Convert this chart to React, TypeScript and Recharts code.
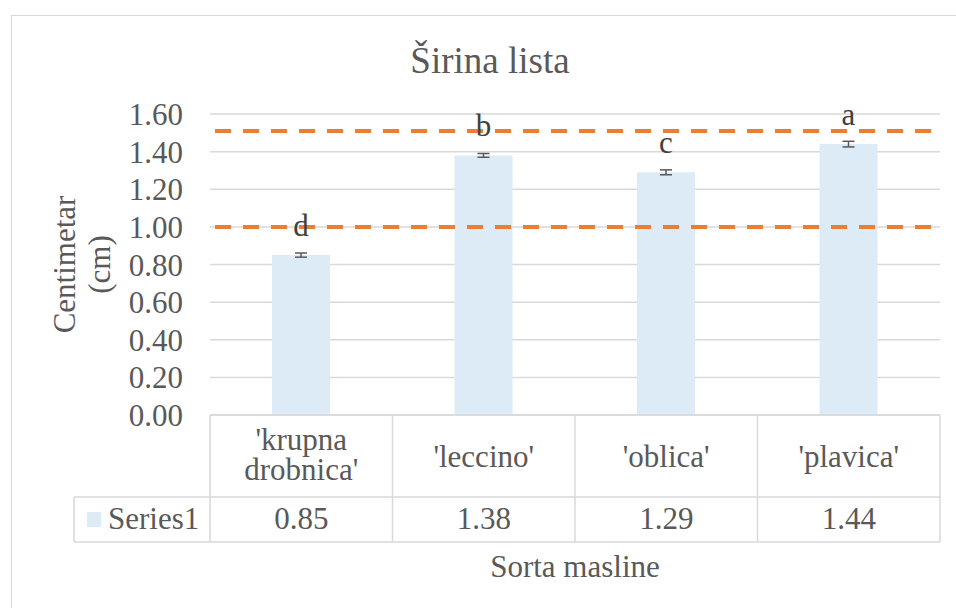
import { BarChart, Bar, XAxis, YAxis, CartesianGrid, ReferenceLine, ErrorBar, LabelList, Label } from 'recharts';

const categories = ["'krupna drobnica'", "'leccino'", "'oblica'", "'plavica'"];
const leafWidth = [0.85, 1.38, 1.29, 1.44];
const leafError = [0.011, 0.01, 0.013, 0.015];
const groupLetters = ['d', 'b', 'c', 'a'];
const yTicks = [0, 0.2, 0.4, 0.6, 0.8, 1.0, 1.2, 1.4, 1.6];
const refLines = [1.0, 1.51];
const seriesName = 'Series1';

const chartData = categories.map((name, i) => ({
  name,
  value: leafWidth[i],
  err: leafError[i],
  letter: groupLetters[i],
}));

const FONT = 'Liberation Serif';
const TEXT = '#595959';
const LINE = '#D9D9D9';
const BAR = '#DDEBF7';
const BAND = 182.5;

// x axis ticks draw the data table under the plot
const TableTick = (props: any) => {
  const { x, y, payload } = props;
  const i = payload.index;
  const left = x - BAND / 2;
  const right = x + BAND / 2;
  const lines = String(payload.value).split(' ');
  const rowSplit = y + 82;
  const bottom = y + 127;
  const startX = i === 0 ? left - 136 : left;
  const firstBaseline = lines.length === 1 ? y + 52 : y + 35;
  return (
    <g>
      <line x1={left} y1={y} x2={right} y2={y} stroke={LINE} strokeWidth={1.5} />
      <line x1={startX} y1={rowSplit} x2={right} y2={rowSplit} stroke={LINE} strokeWidth={1.5} />
      <line x1={startX} y1={bottom} x2={right} y2={bottom} stroke={LINE} strokeWidth={1.5} />
      <line x1={left} y1={y} x2={left} y2={bottom} stroke={LINE} strokeWidth={1.5} />
      {i === categories.length - 1 && (
        <line x1={right} y1={y} x2={right} y2={bottom} stroke={LINE} strokeWidth={1.5} />
      )}
      <text x={x} y={firstBaseline} textAnchor="middle" fill={TEXT} fontSize={31} fontFamily={FONT}>
        {lines.map((t, k) => (
          <tspan key={k} x={x} dy={k === 0 ? 0 : 30}>{t}</tspan>
        ))}
      </text>
      <text x={x} y={y + 114} textAnchor="middle" fill={TEXT} fontSize={31} fontFamily={FONT}>
        {leafWidth[i].toFixed(2)}
      </text>
      {i === 0 && (
        <g>
          <line x1={startX} y1={rowSplit} x2={startX} y2={bottom} stroke={LINE} strokeWidth={1.5} />
          <rect x={left - 123} y={y + 97} width={14} height={15} fill={BAR} />
          <text x={left - 102} y={y + 114} fill={TEXT} fontSize={31} fontFamily={FONT}>{seriesName}</text>
        </g>
      )}
    </g>
  );
};

const YTitle = (props: any) => {
  const { viewBox } = props;
  const cy = viewBox.y + viewBox.height / 2;
  return (
    <g fill={TEXT} fontSize={31} fontFamily={FONT}>
      <text transform={`translate(75, ${cy}) rotate(-90)`} textAnchor="middle">Centimetar</text>
      <text transform={`translate(110, ${cy}) rotate(-90)`} textAnchor="middle">(cm)</text>
    </g>
  );
};

const App = () => {
  return (
    <div
      style={{
        position: 'absolute',
        left: 0,
        top: 0,
        width: 956,
        height: 608,
        overflow: 'hidden',
        background: '#fff',
        fontFamily: FONT,
      }}
    >
      <div
        style={{
          position: 'absolute',
          left: 11,
          top: 15,
          width: 1000,
          height: 700,
          border: `1.5px solid ${LINE}`,
        }}
      />
      <div
        style={{
          position: 'absolute',
          left: 0,
          top: 42,
          width: 980,
          textAlign: 'center',
          fontSize: 37,
          lineHeight: '37px',
          color: TEXT,
          fontFamily: FONT,
        }}
      >
        Širina lista
      </div>
      <div style={{ position: 'absolute', left: 0, top: 0 }}>
        <BarChart
          width={956}
          height={608}
          data={chartData}
          margin={{ top: 114, right: 16, left: 0, bottom: 0 }}
          style={{ fontFamily: FONT }}
        >
          <CartesianGrid horizontal vertical={false} stroke={LINE} strokeWidth={1.5} />
          <XAxis
            dataKey="name"
            height={193}
            interval={0}
            axisLine={false}
            tickLine={false}
            tickSize={0}
            tickMargin={0}
            tick={<TableTick />}
          >
            <Label value="Sorta masline" position="insideBottom" offset={31} fill={TEXT} fontSize={31} fontFamily={FONT} />
          </XAxis>
          <YAxis
            width={210}
            domain={[0, 1.6]}
            ticks={yTicks}
            interval={0}
            axisLine={false}
            tickLine={false}
            tickMargin={21}
            tickFormatter={(v: number) => v.toFixed(2)}
            tick={{ fill: TEXT, fontSize: 31, fontFamily: FONT }}
          >
            <Label content={<YTitle />} />
          </YAxis>
          <Bar dataKey="value" fill={BAR} barSize={58} isAnimationActive={false}>
            <ErrorBar dataKey="err" width={6} stroke="#595959" strokeWidth={1.5} isAnimationActive={false} />
            <LabelList dataKey="letter" position="top" offset={19} fill="#404040" fontSize={31} fontFamily={FONT} />
          </Bar>
          {refLines.map((v) => (
            <ReferenceLine
              key={v}
              y={v}
              stroke="#ED7D31"
              strokeWidth={4}
              strokeDasharray="16 12"
              strokeDashoffset={-5}
            />
          ))}
        </BarChart>
      </div>
    </div>
  );
};

export default App;
